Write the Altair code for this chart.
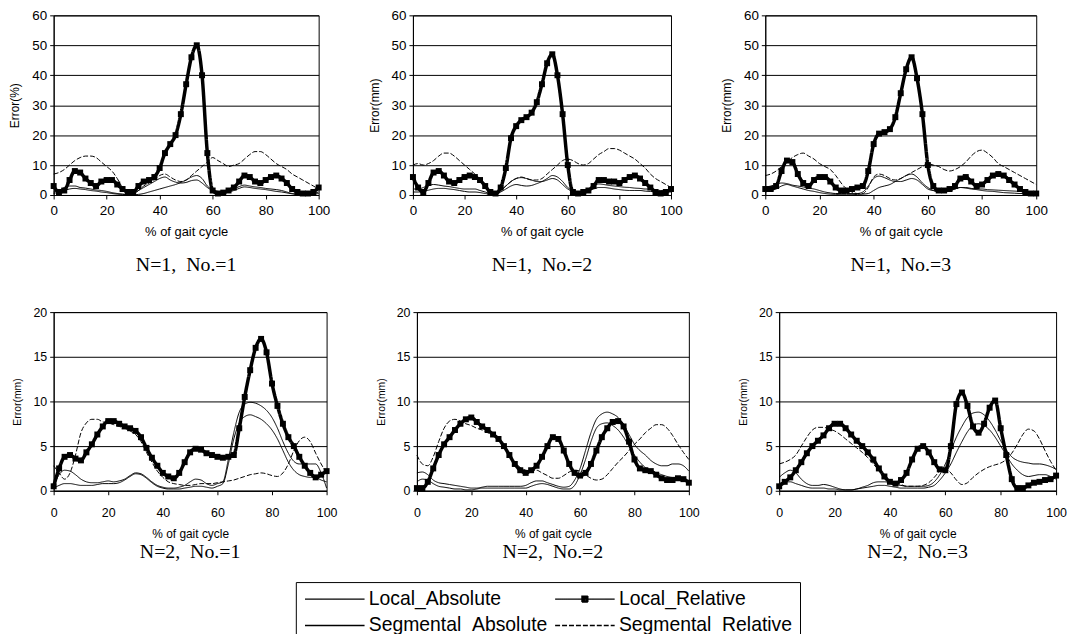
import altair as alt
import pandas as pd

X = list(range(0, 101, 2))
SERIES = ["Local_Absolute", "Local_Relative", "Segmental_Absolute", "Segmental_Relative"]

# ---- N=1, No.=1 ----
p1_la = [1,1.5,2.5,3,3,2.5,2.3,2,1.7,1.5, 1.2,0.8,0.5,0.3,0.2,0.5,1.5,2.5,3.5,4.5,
         5.5,6,5,4.3,4,4.2,4.8,5,4,2.5, 1.5,1,1,1.3,2,2.8,3.3,3,2.7,2.5,
         2.2,2,1.8,1.5,1,0.5,0.3,0.2,0.2,0.5,1]
p1_lr = [3,1,1.5,5,8,7.5,5.5,4,3,4.5, 5,5,3.5,2,1,1,3,4.5,5,6,
         9,14,17,20,27,37,46,50,40,14, 1.5,0.5,0.8,1.5,2.5,4.5,6.5,6,4.5,4,
         5,6,6.5,5.5,4,2,1,0.5,0.5,1,2.5]
p1_sa = [0.5,1,1.5,2,2.2,2,1.8,1.5,1.3,1, 0.8,0.5,0.3,0.2,0.1,0.1,0.2,0.5,1,1.5,
         2,2.5,3,3.5,4.2,5,6,6.5,5.5,3, 1.8,1.2,1,1,1.5,2.2,2.7,2.5,2.2,2,
         1.8,1.5,1.2,1,0.7,0.4,0.2,0.1,0.1,0.3,0.5]
p1_sr = [7,7.5,8.5,10,11.5,12.5,13,13,12.5,11, 9.5,8,5.5,2.5,1,0.5,1.5,3,4,5,
         6.5,7,6,5,4.5,5,6.5,8,9.5,11, 12.5,11.5,10.5,9.5,10,10.5,12,13.5,14.5,14.5,
         13.5,12,10.5,9.5,8.5,7,6,5,4,3,2]

# ---- N=1, No.=2 ----
p2_la = [2,2,2.5,3.2,3.5,3.3,3,2.8,2.5,2.2, 2,2,2,1.5,1,0.5,0.5,1.5,3,4.5,
         5.5,5.8,5.5,5,4.5,4.5,5,5.5,5,3.5, 2,1.2,1,1.2,2,3,3.7,3.5,3.2,3,
         2.8,2.6,2.5,2.3,2.2,2,2,1.8,1.5,1.5,1.5]
p2_lr = [6,2.5,1,4,7.5,8,6.5,4.5,4,5, 6,6.5,6,5,3,1,0.5,2.5,9,19,
         23,25,26,27.5,31,37,44,47,40,27, 10,1,0.5,1,1.5,3,5,5,4.5,4.5,
         4,5,6,6.5,5.5,4,2.5,1,0.5,1,2]
p2_sa = [1,1,1.2,1.6,2,2.2,2.2,2,1.8,1.5, 1.2,1,1,0.8,0.5,0.3,0.3,1,2,3,
         3.5,3.2,3,3.2,3.8,4.5,5.5,6.5,6,4.5, 2.5,1.5,1,1,1.5,2,2.5,2.5,2.3,2,
         1.8,1.6,1.5,1.5,1.5,1.3,1.2,1,1,1,1]
p2_sr = [10,10.5,10,10.5,11.5,13,14,14,13,11.5, 10,8.5,7,5,3,1.5,0.5,1.5,3,4.5,
         5.5,6,5.5,5,5,5.5,7,8.5,10,11.5, 12,11.5,10.5,10,10.5,12,13.5,14.5,15.5,15.5,
         15,14,13,12,10.5,9,7,5.5,4.5,3.5,2.5]

# ---- N=1, No.=3 ----
p3_la = [2.5,3,3.5,4,3.8,3.3,3,2.7,2.3,2, 1.5,1,0.7,0.5,0.5,0.5,0.5,0.5,1,3,
         5.5,6.3,5.8,5,4.5,4.5,5,5.5,5,3.5, 2,1.5,1.3,1.2,1.5,2,2.5,2.5,2.2,2,
         2,1.8,1.7,1.6,1.5,1.4,1.3,1.2,1,0.8,0.8]
p3_lr = [2,2,3,8,11.5,11,7,4,3,5, 6,6,4.5,2.5,1.5,1.5,2,2.5,3,8,
         17,20.5,21,22,26,34,42,46,39,27, 10,3,1.5,1.5,2,3,5.5,6,4.5,3,
         3.5,5,6.5,7,6.5,5,3.5,2,1,0.5,0.5]
p3_sa = [1,1.5,2,3,3.5,3,2.5,2,1.5,1.2, 0.8,0.5,0.3,0.2,0.1,0.1,0.1,0.2,0.3,0.5,
         1.5,2.5,3,3.5,4.5,5.5,6.5,7,6,4, 2.5,1.5,1,1,1.3,2,2.5,2.3,2,1.8,
         1.5,1.3,1.2,1,0.8,0.7,0.6,0.5,0.5,0.5,0.5]
p3_sr = [6.5,7,8,9.5,11,12.5,13.5,14,13,12, 10.5,9.5,8.5,6.5,4,2,1,0.5,0.5,2.5,
         6,7,6.5,5.5,5,5.5,6.5,7.5,8.5,9.5, 10.5,10,9.5,8.5,8,8.5,9.5,11,13,14.5,
         15,14,12.5,10.5,9.5,8.5,7.5,6.5,5.5,4.5,3.5]

# ---- N=2, No.=1 ----
p4_la = [0.5,1.8,2.3,2.2,1.8,1.3,1,0.9,0.9,1, 1.1,1,1.1,1.3,1.7,2,1.9,1.5,1,0.6,
         0.4,0.3,0.3,0.4,0.6,1,1.3,1.2,0.8,0.6, 0.8,1,3.5,6.5,8.8,9.7,9.9,9.8,9.5,9,
         8.2,7,5.5,4.2,3.3,3,3,3,3,2,0.3]
p4_lr = [0.5,2.5,3.8,4,3.6,3.4,4.3,5.2,6.3,7.2, 7.8,7.8,7.5,7.2,7,6.7,6,4.8,3.7,2.8,
         2,1.6,1.4,2,3.2,4.3,4.7,4.6,4.2,4, 3.8,3.7,3.8,4,7,10.5,13.5,16,17,15.5,
         12,9.5,7.5,6,5,3.8,2.8,2,1.5,1.8,2.2]
p4_sa = [0.3,0.6,0.8,0.8,0.7,0.6,0.6,0.6,0.7,0.8, 0.8,0.8,0.9,1.2,1.6,1.9,1.8,1.4,0.9,0.5,
         0.3,0.2,0.2,0.2,0.3,0.4,0.5,0.5,0.4,0.3, 0.5,0.8,3,5.8,7.6,8.3,8.5,8.3,8,7.5,
         6.8,5.8,4.5,3.2,2.3,1.8,1.6,1.5,1.5,1.2,1]
p4_sr = [2.8,2,1.3,2,4,6.5,7.6,8,8,7.7, 7.6,7.4,7.2,7,6.7,6.3,5.5,4.3,3.2,2.2,
         1.5,1,0.8,0.7,0.6,0.6,0.7,0.8,0.8,0.8, 0.9,1,1.1,1.2,1.4,1.6,1.8,1.9,2,1.9,
         1.7,1.6,2,3,4.5,5.6,6,5.5,4.2,3,2]

# ---- N=2, No.=2 ----
p5_la = [2,2.1,1.8,1.2,0.9,0.8,0.7,0.6,0.5,0.4, 0.3,0.3,0.4,0.5,0.5,0.5,0.5,0.5,0.5,0.5,
         0.6,0.9,1.1,1.1,0.9,0.7,0.5,0.4,0.5,1.2, 2.5,4.5,6.5,8,8.6,8.8,8.6,8.2,7.4,6.3,
         5.2,4.5,4,3.4,3,2.8,2.8,3,3,2.8,2.2]
p5_lr = [0.3,0.3,1,2.5,4,5.2,6,6.8,7.5,8, 8.2,7.7,7.2,6.8,6.3,5.8,5,4,3,2.3,
         2,2.3,2.8,3.8,5,6,5.8,4.5,3,2, 1.7,2,3,4.5,6,7,7.7,7.8,7.2,5.5,
         3.5,2.5,2.3,2.2,1.8,1.4,1.2,1.2,1.4,1.3,0.9]
p5_sa = [1,1.3,1.2,0.8,0.5,0.4,0.3,0.2,0.2,0.1, 0.1,0.2,0.3,0.3,0.3,0.3,0.3,0.3,0.3,0.3,
         0.3,0.5,0.7,0.8,0.7,0.5,0.3,0.2,0.2,0.6, 1.8,3.5,5.5,7,7.5,7.6,7.3,6.8,6,5,
         4,3.2,2.6,2.3,2,1.8,1.6,1.5,1.5,1.3,1]
p5_sr = [4,3,2.8,3.8,5.5,7,7.8,8,7.8,7.5, 7.3,7,6.8,6.5,6.2,5.8,5,4,3.2,2.6,
         2.3,2.2,2.3,2,1.7,1.4,1.4,1.7,2.1,2.3, 2.2,1.8,1.4,1.2,1.3,1.8,2.5,3.2,3.8,4.5,
         5.2,5.8,6.5,7,7.4,7.4,7,6.2,5.2,4.3,3.5]

# ---- N=2, No.=3 ----
p6_la = [1.5,2,2.3,2,1.3,0.8,0.6,0.6,0.7,0.6, 0.4,0.2,0.1,0.1,0.2,0.4,0.6,0.9,1,1,
         0.9,0.7,0.6,0.5,0.5,0.5,0.5,0.6,1,1.8, 3,4.5,6,7.2,8.2,8.7,8.8,8.5,7.8,6.8,
         5.6,4.6,3.8,3.4,3.2,3.1,3,3,2.9,2.7,2.4]
p6_lr = [0.5,1,1.5,2.3,3.2,4.2,5,5.6,6.2,7, 7.5,7.5,7,6.3,5.6,5,4.3,3.5,2.5,1.6,
         1,0.8,1.2,2,3.5,4.7,5,4.3,3.2,2.4, 2.3,5,9.7,11,9.5,7.2,6.5,7.5,9.3,10.1,
         7,4,1.3,0.3,0.3,0.6,0.9,1,1.2,1.3,1.7]
p6_sa = [0.8,1,1,0.8,0.6,0.4,0.3,0.3,0.3,0.2, 0.2,0.1,0.1,0.1,0.2,0.3,0.4,0.5,0.6,0.6,
         0.5,0.4,0.3,0.3,0.3,0.3,0.3,0.4,0.6,1.2, 2,3,4.3,5.5,6.6,7.3,7.5,7.3,6.8,6,
         5,4,3,2.3,1.8,1.6,1.7,1.8,1.8,1.6,1.3]
p6_sr = [3,3.2,3.5,4,5,6,6.8,7.1,7.1,6.9, 6.7,6.3,5.8,5.3,4.8,4.3,3.7,3,2.3,1.7,
         1.2,0.9,0.7,0.5,0.5,0.5,0.6,0.9,1.5,2.2, 2.5,2,1.2,0.7,0.9,1.5,2,2.4,2.7,2.9,
         3.1,3.5,4.2,5.2,6.3,6.9,6.7,5.8,4.5,3.3,2.3]

NB = "\u00a0"
CAPTIONS = [f"N=1,{NB} No.=1", f"N=1,{NB} No.=2", f"N=1,{NB} No.=3",
            f"N=2,{NB} No.=1", f"N=2,{NB} No.=2", f"N=2,{NB} No.=3"]
YTITLES = ["Error(%)", "Error(mm)", "Error(mm)", "Error(mm)", "Error(mm)", "Error(mm)"]
PANEL_DATA = [
    (p1_la, p1_lr, p1_sa, p1_sr), (p2_la, p2_lr, p2_sa, p2_sr), (p3_la, p3_lr, p3_sa, p3_sr),
    (p4_la, p4_lr, p4_sa, p4_sr), (p5_la, p5_lr, p5_sa, p5_sr), (p6_la, p6_lr, p6_sa, p6_sr),
]

rows = []
for pi, lists in enumerate(PANEL_DATA):
    for s, vals in zip(SERIES, lists):
        for x, v in zip(X, vals):
            rows.append({"panel": pi, "series": s, "x": x, "y": v})
df = pd.DataFrame(rows)

LINE_SYM = "M-1,0H7"
MARK_SYM = ("M-1,0H7M2.6,-0.4H3.4V0.4H2.6Z"
            "M2.75,-0.25H3.25V0.25H2.75ZM2.9,-0.1H3.1V0.1H2.9Z")

LEGEND = alt.Legend(
    title=None, orient="none", legendX=244, legendY=571, columns=2, direction="horizontal",
    symbolSize=225, symbolStrokeColor="black", symbolStrokeWidth=1.3, symbolOpacity=1,
    symbolFillColor="black",
    labelFont="Liberation Sans", labelFontSize=19.5, labelColor="black", labelOffset=47,
    labelLimit=400,
    strokeColor="black", padding=7, rowPadding=6, columnPadding=4,
)
DASH = alt.StrokeDash("series:N", scale=alt.Scale(domain=SERIES, range=[[1, 0], [1, 0], [1, 0], [5, 2]]),
                      legend=LEGEND)
SHAPE = alt.Shape("series:N", scale=alt.Scale(domain=SERIES, range=[LINE_SYM, MARK_SYM, LINE_SYM, LINE_SYM]),
                  legend=LEGEND)


def panel(pi, w, h, ymax, ystep, lab, ttl_y, ttl_x, lpad, tpad, cap_off):
    d = df[df.panel == pi]
    xenc = alt.X("x:Q", scale=alt.Scale(domain=[0, 100], nice=False, zero=False),
                 axis=alt.Axis(values=[0, 20, 40, 60, 80, 100], title="% of gait cycle", grid=False,
                               labelFontSize=lab, titleFontSize=ttl_x, tickSize=4,
                               labelPadding=lpad, titlePadding=tpad, labelFlush=False))
    yenc = alt.Y("y:Q", scale=alt.Scale(domain=[0, ymax], nice=False),
                 axis=alt.Axis(values=list(range(0, ymax + 1, ystep)), title=YTITLES[pi], grid=True,
                               labelFontSize=lab, titleFontSize=ttl_y, tickSize=4,
                               labelPadding=3, titlePadding=10))
    thin = alt.Chart(d).transform_filter(alt.datum.series != "Local_Relative").mark_line(
        color="black", strokeWidth=1, interpolate="monotone").encode(x=xenc, y=yenc, strokeDash=DASH)
    thick = alt.Chart(d).transform_filter(alt.datum.series == "Local_Relative").mark_line(
        color="black", strokeWidth=3.5, interpolate="monotone").encode(x=xenc, y=yenc, strokeDash=DASH)
    pts = alt.Chart(d).transform_filter(alt.datum.series == "Local_Relative").mark_square(
        color="black", filled=True, size=36, opacity=1).encode(x=xenc, y=yenc)
    # invisible layer whose only job is to give the legend its line / line+marker symbols
    key = alt.Chart(d).transform_filter(
        (alt.datum.series == "Local_Relative") & (alt.datum.x == 40)
    ).mark_point(color="black", opacity=0, clip=True).encode(x=xenc, y=yenc, shape=SHAPE, strokeDash=DASH)
    return alt.layer(thin, thick, pts, key).properties(
        width=w, height=h,
        title=alt.TitleParams(CAPTIONS[pi], orient="bottom", anchor="middle", font="Liberation Serif",
                              fontSize=20, fontWeight="normal", color="black", offset=cap_off),
    )


row1 = alt.hconcat(
    panel(0, 267, 181, 60, 10, 13.5, 12, 13, 5, 8, 17),
    panel(1, 260, 181, 60, 10, 13.5, 12, 13, 5, 8, 17),
    panel(2, 273, 181, 60, 10, 13.5, 12, 13, 5, 8, 17),
    spacing=95, bounds="flush")
row2 = alt.hconcat(
    panel(3, 275, 180, 20, 5, 12.5, 10.5, 12, 12, 10, 2),
    panel(4, 274, 180, 20, 5, 12.5, 10.5, 12, 12, 10, 2),
    panel(5, 279, 180, 20, 5, 12.5, 10.5, 12, 12, 10, 2),
    spacing=91, bounds="flush")

chart = alt.vconcat(row1, row2, spacing=299, bounds="flush").properties(
    padding={"left": 0, "top": -3, "right": 0, "bottom": 0}, background="white"
).configure_view(stroke="black", strokeWidth=1).configure_axis(
    domainColor="black", tickColor="black", gridColor="black", gridWidth=1, gridOpacity=1,
    labelColor="black", titleColor="black", labelFont="Liberation Sans", titleFont="Liberation Sans",
    titleFontWeight="normal",
)

chart.save("out.html", embed_options={"renderer": "svg", "actions": False})
